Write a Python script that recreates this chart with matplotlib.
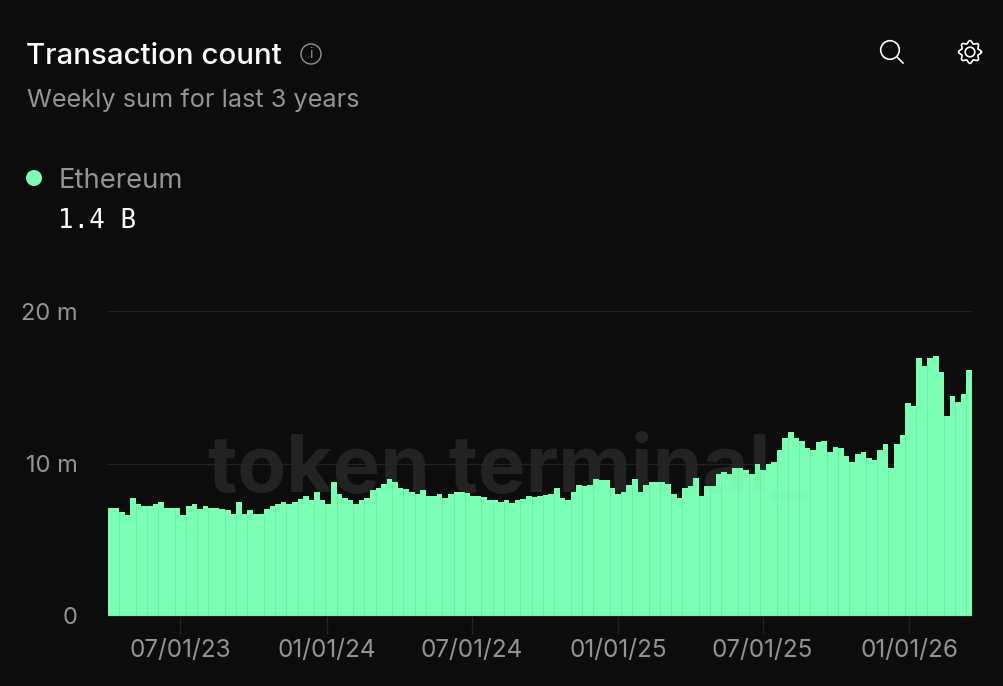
import matplotlib
matplotlib.use("Agg")
import matplotlib.pyplot as plt
from matplotlib.patches import Circle
import numpy as np
import pandas as pd

# Weekly transaction count for Ethereum, in millions
tx_count = [
    7.1, 7.1, 6.85, 6.6, 7.75, 7.35, 7.2, 7.2, 7.35, 7.45,
    7.1, 7.1, 7.1, 6.6, 7.2, 7.35, 7.0, 7.2, 7.1, 7.1,
    7.0, 6.95, 6.7, 7.45, 6.7, 6.95, 6.7, 6.7, 7.0, 7.2,
    7.35, 7.45, 7.35, 7.45, 7.7, 7.85, 7.6, 8.1, 7.6, 7.35,
    8.8, 8.0, 7.75, 7.6, 7.35, 7.6, 7.75, 8.25, 8.4, 8.65,
    9.0, 8.8, 8.4, 8.3, 8.15, 8.0, 8.25, 7.9, 7.9, 8.0,
    7.75, 8.0, 8.1, 8.1, 8.05, 7.9, 7.9, 7.8, 7.6, 7.6,
    7.5, 7.6, 7.4, 7.6, 7.65, 7.9, 7.8, 7.9, 7.95, 8.0,
    8.4, 7.75, 7.6, 8.15, 8.6, 8.5, 8.6, 9.0, 8.9, 8.9,
    8.4, 8.0, 8.1, 8.6, 9.0, 8.1, 8.6, 8.8, 8.8, 8.8,
    8.65, 8.0, 7.75, 8.37, 8.52, 9.05, 7.9, 8.52, 8.52, 9.3,
    9.44, 9.3, 9.7, 9.7, 9.57, 9.3, 9.97, 9.57, 9.97, 10.1,
    10.9, 11.65, 12.05, 11.65, 11.5, 11.0, 10.9, 11.4, 11.5, 10.75,
    11.1, 11.0, 10.5, 10.1, 10.6, 10.75, 10.35, 10.2, 10.9, 11.25,
    9.7, 11.25, 11.9, 14.0, 13.77, 16.9, 16.4, 16.9, 17.05, 16.0,
    13.1, 14.4, 14.03, 14.55, 16.13,
]
weeks = pd.date_range("2023-04-01", periods=len(tx_count), freq="7D")

date_ticks = pd.to_datetime(["2023-07-01", "2024-01-01", "2024-07-01", "2025-01-01", "2025-07-01", "2026-01-01"])
date_labels = ["07/01/23", "01/01/24", "07/01/24", "01/01/25", "07/01/25", "01/01/26"]
y_ticks = [0, 10, 20]
y_labels = ["0", "10 m", "20 m"]

BG = "#0c0c0c"
GREEN = "#7bffb4"
SEAM = "#6fe8a4"
LINE = "#232323"
GREY = "#949494"

W, H = 1004, 686
plt.rcParams["font.family"] = ["Inter", "DejaVu Sans"]

fig = plt.figure(figsize=(W / 100, H / 100), dpi=100, facecolor=BG)

# Watermark sits behind the bars, a fainter copy goes over them further down
back = fig.add_axes([0, 0, 1, 1], facecolor="none", zorder=0)
back.set_xlim(0, W)
back.set_ylim(H, 0)
back.axis("off")
back.text(208, 492, "token terminal_", fontsize=57.5, color="#202020", fontweight="bold", va="baseline")

ax = fig.add_axes([108 / W, (H - 616) / H, 864 / W, 305 / H], facecolor="none", zorder=1)
ax.bar(weeks, tx_count, width=7, align="edge", color=GREEN, linewidth=0, zorder=2)

# faint seams between the bars, like the rounding in the original
seam_idx = np.round(np.arange(1, len(tx_count) / 2.3) * 2.3).astype(int)
seam_idx = seam_idx[seam_idx < len(tx_count)]
ax.vlines(weeks[seam_idx], 0, np.minimum(np.array(tx_count)[seam_idx], np.array(tx_count)[seam_idx - 1]),
          color=SEAM, linewidth=0.5, zorder=3)

ax.set_xlim(weeks[0], weeks[-1] + pd.Timedelta(days=7))
ax.set_ylim(0, 20)

ax.set_xticks(date_ticks)
ax.set_xticklabels(date_labels, fontsize=17.5, color=GREY)
ax.set_yticks(y_ticks)
ax.set_yticklabels(y_labels, fontsize=17, color=GREY)
ax.tick_params(axis="x", length=13, width=1, color=LINE, pad=3.5)
ax.tick_params(axis="y", length=0, pad=22)
ax.grid(axis="y", color=LINE, linewidth=1, zorder=1)
for side in ["top", "left", "right"]:
    ax.spines[side].set_visible(False)
ax.spines["bottom"].set_color(LINE)
ax.spines["bottom"].set_zorder(4)

# Overlay in pixel coordinates for header, legend, icons and watermark
top = fig.add_axes([0, 0, 1, 1], facecolor="none", zorder=5)
top.set_xlim(0, W)
top.set_ylim(H, 0)
top.axis("off")

top.text(208, 492, "token terminal_", fontsize=57.5, color="#777777", alpha=0.04, fontweight="bold", va="baseline")

top.text(26, 57, "Transaction count", fontsize=21.2, color="white", fontweight="medium", va="center")
top.text(27, 100, "Weekly sum for last 3 years", fontsize=18.2, color=GREY, va="center")
top.add_patch(Circle((34, 178), 8, color=GREEN, linewidth=0))
top.text(59, 181, "Ethereum", fontsize=19.8, color=GREY, va="center")
top.text(58, 221, "1.4 B", fontsize=18.6, color="white", family="DejaVu Sans Mono", va="center")

# info icon
top.add_patch(Circle((311, 54), 10, fill=False, edgecolor=GREY, linewidth=1.0))
top.text(311, 54.5, "i", fontsize=10, color=GREY, ha="center", va="center")

# search icon
top.add_patch(Circle((890, 50), 9.3, fill=False, edgecolor="white", linewidth=1.2))
top.plot([897, 903], [57, 63], color="white", linewidth=1.2)

# settings icon
theta = np.linspace(0, 2 * np.pi, 300)
radius = 10 + 1.4 * np.cos(8 * theta)
top.plot(970 + radius * np.cos(theta), 52 + radius * np.sin(theta), color="white", linewidth=1.2)
top.add_patch(Circle((970, 52), 4.8, fill=False, edgecolor="white", linewidth=1.2))

fig.savefig("out.png", dpi=100, facecolor=BG)
